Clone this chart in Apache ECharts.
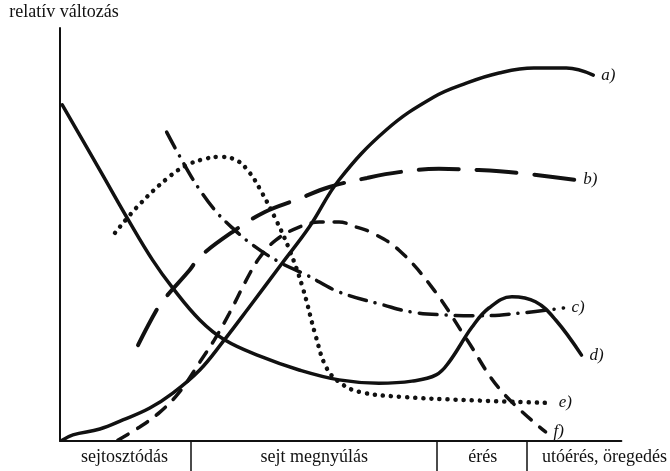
<!DOCTYPE html>
<html>
<head>
<meta charset="utf-8">
<script src="https://cdn.jsdelivr.net/npm/echarts@6/dist/echarts.min.js"></script>
<style>
  html, body { margin: 0; padding: 0; background: #fff; }
  #main { width: 670px; height: 471px; }
</style>
</head>
<body>
<div id="main"></div>
<script>
// NOTE - data (x: time 0-100, y: relative change 0-100)

const phaseNames = ['sejtosztódás', 'sejt megnyúlás', 'érés', 'utóérés, öregedés'];
const phaseCenters = [11.5, 45.3, 75.3, 97];
const phaseBounds = [23.3, 67.1, 83.1];

const curveA = [[0.4, 0.2], [2.3, 1.5], [7.1, 2.9], [11.2, 5.1], [16, 8], [20.1, 11.6], [24.9, 17.2], [29, 24], [33.7, 32.4], [39.6, 43.1], [44.4, 51.8], [49.7, 63.2], [58.1, 75.3], [66.6, 83.3], [72.5, 86.7], [78.2, 89.1], [84.4, 90.3], [90.2, 90.3], [95, 88.6]];
const curveB = [[13.9, 23.2], [17.2, 31.7], [18.7, 34.6], [23.1, 41.4], [24.9, 44.6], [30.7, 50.6], [36.4, 55.4], [42.1, 58.4], [48, 61.5], [54.7, 63.7], [60.4, 65.1], [67.5, 65.9], [74.6, 65.6], [81.7, 64.9], [91.8, 63.2]];
const curveC = [[19, 74.8], [22.2, 66.8], [24.9, 60.8], [27.9, 55.4], [30.7, 51.6], [34.3, 47.5], [39.1, 43.3], [43.9, 40.2], [49.7, 36.1], [57.7, 32.9], [62.7, 31.2], [68.7, 30.5], [74.6, 30.3], [82.2, 31], [89.7, 32.2]];
const curveD = [[0.4, 81.4], [7.1, 65.6], [12.4, 53], [16.5, 43.8], [20.1, 37], [24.9, 29.3], [29.3, 24.5], [35.5, 20.6], [42.6, 17.2], [49.7, 14.8], [56.8, 14], [62.7, 14.5], [67, 16], [69.3, 19.1], [73.4, 27.6], [76.4, 32.2], [80.5, 34.9], [84.7, 33.7], [88.3, 29.3], [92.9, 20.8]];
const curveE = [[9.8, 50.4], [13.9, 56.9], [19.2, 63.7], [22.6, 66.8], [25.8, 68.3], [28.4, 68.8], [31.4, 68], [33.7, 65.1], [35.9, 60.3], [38.5, 53.5], [40.9, 46.2], [43.2, 37.3], [45.6, 25.2], [47.4, 17.9], [49.7, 14.3], [53.3, 11.9], [60.7, 10.7], [72.5, 9.9], [87.4, 9.2]];
const curveF = [[10.3, 0.2], [14.2, 3.4], [17.8, 7], [21.3, 11.9], [24.9, 19.1], [27.5, 24.5], [30.2, 31], [33.2, 39], [35.5, 44.3], [38.5, 48.7], [42.6, 51.8], [46.2, 53], [49.7, 53], [52.8, 51.8], [55.6, 50.4], [60.4, 46.2], [66.6, 36.6], [72.5, 24.5], [78.5, 12.3], [86.5, 2.2]];

// NOTE - chart

var myChart = echarts.init(document.getElementById('main'));

const serif = '"Liberation Serif", "DejaVu Serif", serif';

function curve(name, data, width, dash) {
  return {
    name: name,
    type: 'line',
    data: data,
    smooth: 0.4,
    showSymbol: false,
    silent: true,
    lineStyle: { color: '#111', width: width, type: dash, cap: 'round' },
    endLabel: {
      show: true,
      formatter: name,
      fontFamily: serif,
      fontStyle: 'italic',
      fontSize: 17,
      color: '#111',
      distance: 8
    }
  };
}

var option = {
  backgroundColor: '#fff',
  animation: false,
  grid: { left: 60, right: 47, top: 28, bottom: 30 },
  xAxis: {
    type: 'value',
    min: 0,
    max: 100,
    splitLine: { show: false },
    axisLine: { lineStyle: { color: '#111', width: 2 } },
    axisTick: {
      show: true,
      customValues: phaseBounds,
      length: 30,
      lineStyle: { color: '#111', width: 1.5 }
    },
    axisLabel: {
      customValues: phaseCenters,
      formatter: v => phaseNames[phaseCenters.indexOf(v)],
      fontFamily: serif,
      fontSize: 18,
      color: '#111',
      margin: 7
    }
  },
  yAxis: {
    type: 'value',
    min: 0,
    max: 100,
    name: 'relatív változás',
    nameLocation: 'end',
    nameGap: 7,
    nameTextStyle: { fontFamily: serif, fontSize: 18, color: '#111', padding: [0, 0, 0, 8] },
    splitLine: { show: false },
    axisLine: { show: true, lineStyle: { color: '#111', width: 2 } },
    axisTick: { show: false },
    axisLabel: { show: false }
  },
  series: [
    curve('a)', curveA, 3.5, 'solid'),
    curve('b)', curveB, 4, [40, 18]),
    curve('c)', curveC, 3.5, [18, 9, 0.1, 9]),
    curve('d)', curveD, 3.5, 'solid'),
    curve('e)', curveE, 4.5, [0.1, 8]),
    curve('f)', curveF, 3.5, [12, 11])
  ]
};

myChart.setOption(option);
</script>
</body>
</html>
